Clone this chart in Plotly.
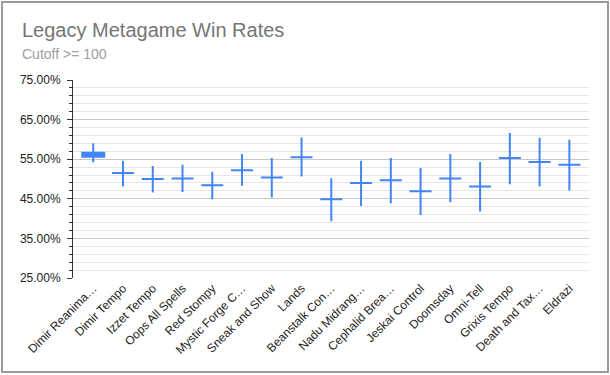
import plotly.graph_objects as go

categories = ["Dimir Reanima…", "Dimir Tempo", "Izzet Tempo", "Oops All Spells", "Red Stompy",
              "Mystic Forge C…", "Sneak and Show", "Lands", "Beanstalk Con…", "Nadu Midrang…",
              "Cephalid Brea…", "Jeskai Control", "Doomsday", "Omni-Tell", "Grixis Tempo",
              "Death and Tax…", "Eldrazi"]
low = [54.2, 48.1, 46.6, 46.7, 44.9, 48.3, 45.3, 50.6, 39.3, 43.2, 43.9, 40.9, 44.1, 41.8, 48.7, 48.1, 47.1]
open_ = [55.6, 51.5, 50.0, 50.1, 48.4, 52.2, 50.4, 55.5, 44.9, 49.0, 49.7, 46.9, 50.1, 48.1, 55.3, 54.3, 53.6]
close = [56.6, 51.5, 50.0, 50.1, 48.4, 52.2, 50.4, 55.5, 44.9, 49.0, 49.7, 46.9, 50.1, 48.1, 55.3, 54.3, 53.6]
high = [59.0, 54.6, 53.3, 53.6, 51.8, 56.3, 55.3, 60.5, 50.2, 54.6, 55.3, 52.8, 56.3, 54.3, 61.6, 60.4, 59.9]

to_frac = lambda v: [x / 100 for x in v]

BLUE = "#4285F4"
fig = go.Figure(go.Candlestick(
    x=categories, open=to_frac(open_), high=to_frac(high), low=to_frac(low), close=to_frac(close),
    increasing=dict(line=dict(color=BLUE, width=2), fillcolor=BLUE),
    decreasing=dict(line=dict(color=BLUE, width=2), fillcolor=BLUE),
    whiskerwidth=0, showlegend=False, hoverinfo="skip",
))

n = len(categories)
L, R, T, B = 73, 21, 80, 97
W, H = 610, 375
pw, ph = W - L - R, H - T - B
px = lambda p: (p - L) / pw
py = lambda p: (H - B - p) / ph

FONT = "Arial, Liberation Sans, sans-serif"
fig.update_layout(
    width=W, height=H, margin=dict(l=L, r=R, t=T, b=B),
    paper_bgcolor="white", plot_bgcolor="white",
    font=dict(family=FONT, size=12, color="#222222"),
    boxgap=0.26, boxgroupgap=0,
    xaxis=dict(type="category", range=[-0.68, n - 1 + 0.66], showgrid=False, ticks="",
               showline=False, tickangle=-45, rangeslider=dict(visible=False),
               tickfont=dict(size=12, color="#222222")),
    yaxis=dict(range=[0.25, 0.75], tick0=0.25, dtick=0.1, tickformat=".2%",
               showgrid=True, gridcolor="#c8c8c8", gridwidth=1,
               showline=True, linecolor="#333333", linewidth=1,
               ticks="outside", ticklen=5, tickcolor="#333333", ticklabelstandoff=4,
               zeroline=False, tickfont=dict(size=12, color="#222222"),
               minor=dict(dtick=0.02, tick0=0.25, ticks="outside", ticklen=3, tickcolor="#333333",
                          showgrid=True, gridcolor="#e6e6e6", gridwidth=1)),
    yaxis2=dict(overlaying="y", side="left", range=[0.25, 0.75], tick0=0.25, dtick=0.1,
                showgrid=False, showticklabels=False, showline=False, zeroline=False,
                ticks="inside", ticklen=6, tickcolor="#333333",
                minor=dict(dtick=0.02, tick0=0.25, ticks="inside", ticklen=3, tickcolor="#333333",
                           showgrid=False)),
    annotations=[
        dict(text="Legacy Metagame Win Rates", xref="paper", yref="paper", x=px(20), y=py(29.5),
             xanchor="left", yanchor="middle", showarrow=False,
             font=dict(family=FONT, size=20, color="#757575")),
        dict(text="Cutoff >= 100", xref="paper", yref="paper", x=px(20), y=py(54.5),
             xanchor="left", yanchor="middle", showarrow=False,
             font=dict(family=FONT, size=14, color="#9e9e9e")),
    ],
    shapes=[dict(type="rect", xref="paper", yref="paper", x0=px(2), x1=px(608), y0=py(372), y1=py(2),
                 line=dict(color="#9a9a9a", width=2), layer="below")],
)

fig.write_html("out.html", config={"displayModeBar": False, "staticPlot": True},
               post_script="document.body.style.margin='0';document.body.style.overflow='hidden';")
